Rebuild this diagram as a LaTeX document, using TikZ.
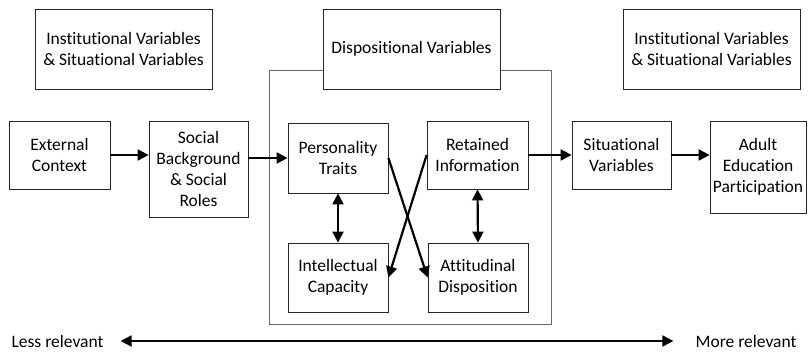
\documentclass[tikz,border=0pt]{standalone}
\usepackage{fontspec}
\setmainfont{Carlito}[Ligatures={NoCommon,NoDiscretionary,NoContextual}]
\usetikzlibrary{arrows.meta}

\tikzset{
	box/.style={draw=black!85,fill=white,line width=0.8pt,align=center,inner sep=0pt,font=\fontsize{17.5}{21}\selectfont},
	link/.style={line width=2.2pt,-{Triangle[length=11pt,width=11pt]}},
	both/.style={line width=2.2pt,{Triangle[length=11pt,width=11pt]}-{Triangle[length=11pt,width=11pt]}}
}

\begin{document}
\begin{tikzpicture}[x=1pt,y=-1pt]
			\useasboundingbox (0,0) rectangle (808,358);
			
			\draw[black!60,line width=1pt] (269,71) rectangle (551,324);
			
			\node[box,minimum width=177pt,minimum height=80pt] (instL) at (123.5,49) {Institutional Variables\\\& Situational Variables};
			\node[box,minimum width=177pt,minimum height=80pt] (disp) at (411.5,49) {Dispositional Variables};
			\node[box,minimum width=177pt,minimum height=80pt] (instR) at (711.5,49) {Institutional Variables\\\& Situational Variables};
			
			\node[box,minimum width=101pt,minimum height=68pt] (ext) at (59.5,155) {External\\Context};
			\node[box,minimum width=99pt,minimum height=96pt] (soc) at (198.5,169) {Social\\Background\\\& Social\\Roles};
			\node[box,minimum width=100pt,minimum height=70pt] (pers) at (338,158) {Personality\\Traits};
			\node[box,minimum width=101pt,minimum height=68pt] (ret) at (477.5,155) {Retained\\Information};
			\node[box,minimum width=100pt,minimum height=69pt] (intel) at (338,277.5) {Intellectual\\Capacity};
			\node[box,minimum width=100pt,minimum height=69pt] (att) at (478,277.5) {Attitudinal\\Disposition};
			\node[box,minimum width=99pt,minimum height=68pt] (sit) at (621.5,155) {Situational\\Variables};
			\node[box,minimum width=96pt,minimum height=92pt] (adult) at (758,167) {Adult\\Education\\Participation};
			
			\draw[link] (ext.east) -- (soc.west |- ext.east);
			\draw[link] (soc.east |- pers.west) -- (pers.west);
			\draw[link] (ret.east) -- (sit.west);
			\draw[link] (sit.east) -- (adult.west |- sit.east);
			\draw[both] (pers.south) -- (intel.north);
			\draw[both] (ret.south) -- (att.north);
			\draw[link] (pers.east) -- (att.west);
			\draw[link] (ret.west) -- (intel.east);
			
			\node[font=\fontsize{17.5}{21}\selectfont,inner sep=0pt] (less) at (57.5,341) {Less relevant};
			\node[font=\fontsize{17.5}{21}\selectfont,inner sep=0pt] (more) at (746,341) {More relevant};
			\draw[both,line width=2pt,shorten <=17pt,shorten >=22pt] (less.east) -- (more.west);
\end{tikzpicture}
\end{document}
